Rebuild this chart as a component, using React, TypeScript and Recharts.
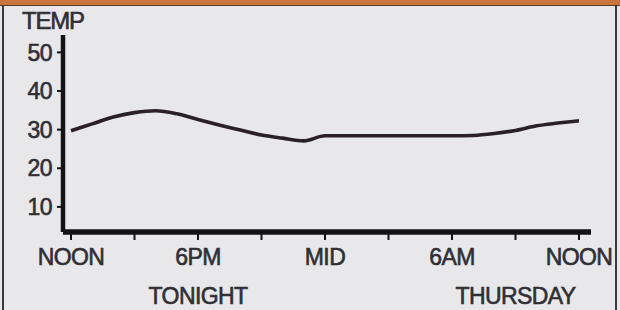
import { LineChart, Line, XAxis, YAxis } from "recharts";

// hours after noon, temperature
const hours = [0, 1, 2, 3, 4, 5, 6, 7, 8, 9, 10, 11, 12, 13, 14, 15, 16, 17, 18, 19, 20, 21, 22, 23, 24];
const temps = [29.7, 31.5, 33.3, 34.4, 34.9, 34.1, 32.6, 31.2, 29.9, 28.6, 27.8, 27.1, 28.4, 28.4, 28.4, 28.4, 28.4, 28.4, 28.4, 28.5, 29.0, 29.8, 31.0, 31.7, 32.3];

const xTicks = [0, 3, 6, 9, 12, 15, 18, 21, 24];
const timeLabels: Record<number, string> = { 0: "NOON", 6: "6PM", 12: "MID", 18: "6AM", 24: "NOON" };
const dayLabels: Record<number, string> = { 6: "TONIGHT", 21: "THURSDAY" };
const yTicks = [10, 20, 30, 40, 50];

const data = hours.map((h, i) => ({ hour: h, temp: temps[i] }));

const FONT = "'Liberation Sans', Arial, sans-serif";
const INK = "#141214";
const TEXT = "#2f2f35";

const textStyle = {
  fill: TEXT,
  stroke: TEXT,
  strokeWidth: 0.6,
  fontSize: 23,
  fontFamily: FONT,
  letterSpacing: -0.6,
};

function HourTick(props: any) {
  const { x, y, payload } = props;
  const t = timeLabels[payload.value];
  const d = dayLabels[payload.value];
  return (
    <g>
      {t && (
        <text x={x} y={y + 23} textAnchor="middle" {...textStyle}>
          {t}
        </text>
      )}
      {d && (
        <text x={x} y={y + 62} textAnchor="middle" {...textStyle}>
          {d}
        </text>
      )}
    </g>
  );
}

export default function App() {
  return (
    <div
      style={{
        position: "absolute",
        left: 0,
        top: 0,
        width: 620,
        height: 310,
        background: "#e8e8ea",
        boxSizing: "border-box",
        borderTop: "5px solid #c8743a",
        overflow: "hidden",
      }}
    >
      <div style={{ position: "absolute", left: 0, top: 0, width: 620, height: 1, background: "#5a3a20" }} />
      <div style={{ position: "absolute", left: 2, top: 0, width: 2, height: 310, background: "#3a3a3c" }} />
      <div style={{ position: "absolute", left: 615, top: 0, width: 2, height: 310, background: "#3a3a3c" }} />
      <div
        style={{
          position: "absolute",
          left: 22,
          top: 2,
          fontFamily: FONT,
          fontSize: 24,
          color: TEXT,
          letterSpacing: -1.2,
          WebkitTextStroke: "0.6px " + TEXT,
        }}
      >
        TEMP
      </div>
      <div style={{ position: "absolute", left: 0, top: -5 }}>
        <LineChart width={620} height={310} data={data} margin={{ top: 35, right: 29, bottom: 0, left: 0 }}>
          <XAxis
            dataKey="hour"
            type="number"
            domain={[0, 24]}
            ticks={xTicks}
            interval={0}
            height={78}
            padding={{ left: 8, right: 12 }}
            axisLine={{ stroke: INK, strokeWidth: 5.5 }}
            tickLine={{ stroke: INK, strokeWidth: 2 }}
            tickSize={8}
            tick={<HourTick />}
          />
          <YAxis
            type="number"
            domain={[3.5, 54.5]}
            ticks={yTicks}
            interval={0}
            width={63}
            axisLine={{ stroke: INK, strokeWidth: 4.5 }}
            tickLine={{ stroke: INK, strokeWidth: 2 }}
            tickSize={6}
            tickMargin={5}
            tick={textStyle}
          />
          <Line
            dataKey="temp"
            type="monotone"
            stroke="#2a2026"
            strokeWidth={3.6}
            dot={false}
            isAnimationActive={false}
          />
        </LineChart>
      </div>
    </div>
  );
}
